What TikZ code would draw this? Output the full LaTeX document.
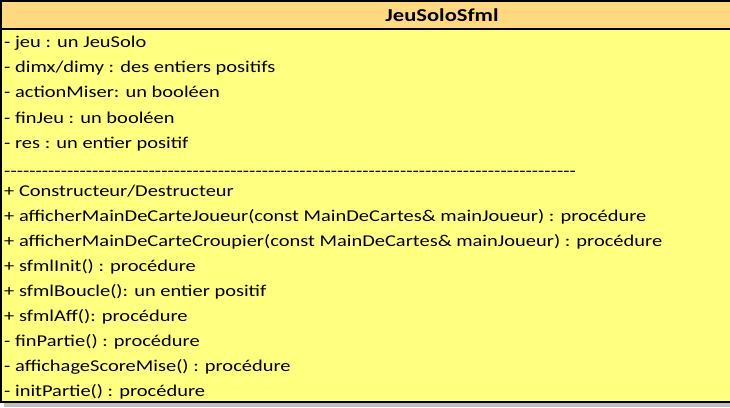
\documentclass[tikz,border=0pt]{standalone}
\usepackage{fontspec}
\setmainfont{Carlito}[FakeStretch=1.24]
\definecolor{headfill}{RGB}{255,217,128}
\definecolor{bodyfill}{RGB}{255,255,128}
\definecolor{shadowgray}{RGB}{192,192,192}
\begin{document}
\begin{tikzpicture}[x=1pt,y=-1pt,
  member/.style={anchor=base west,inner sep=0pt,font=\fontsize{16.5}{19}\selectfont},
  title/.style={inner sep=0pt,font=\fontsize{18.2}{21}\selectfont\bfseries}]
\useasboundingbox (0,0) rectangle (730,407);
\clip (0,0) rectangle (730,407);
\fill[shadowgray] (4,402) rectangle (900,407);
\fill[bodyfill] (1,29) rectangle (884,402);
\fill[headfill] (1,1) rectangle (884,29);
\draw[line width=1.6pt] (1,1) rectangle (884,402);
\draw[line width=1.6pt] (1,29) -- (884,29);
\node[title] (t) at (442,15) {JeuSoloSfml};
\node[member] (a1) at (4,47.5) {- jeu : un JeuSolo};
\node[member] (a2) at (4,72.7) {- dimx/dimy : des entiers positifs};
\node[member] (a3) at (4,97.9) {- actionMiser: un booléen};
\node[member] (a4) at (4,123.1) {- finJeu : un booléen};
\node[member] (a5) at (4,148.3) {- res : un entier positif};
\node[member] (sep) at (4,176.5) {\hbox to 572pt{\xleaders\hbox{-}\hfill}};
\node[member] (m1) at (4,196) {+ Constructeur/Destructeur};
\node[member] (m2) at (4,221.1) {+ afficherMainDeCarteJoueur(const MainDeCartes\& mainJoueur) : procédure};
\node[member] (m3) at (4,246.2) {+ afficherMainDeCarteCroupier(const MainDeCartes\& mainJoueur) : procédure};
\node[member] (m4) at (4,271.3) {+ sfmlInit() : procédure};
\node[member] (m5) at (4,296.4) {+ sfmlBoucle(): un entier positif};
\node[member] (m6) at (4,321.5) {+ sfmlAff(): procédure};
\node[member] (m7) at (4,346.6) {- finPartie() : procédure};
\node[member] (m8) at (4,371.7) {- affichageScoreMise() : procédure};
\node[member] (m9) at (4,396.8) {- initPartie() : procédure};
\end{tikzpicture}
\end{document}
